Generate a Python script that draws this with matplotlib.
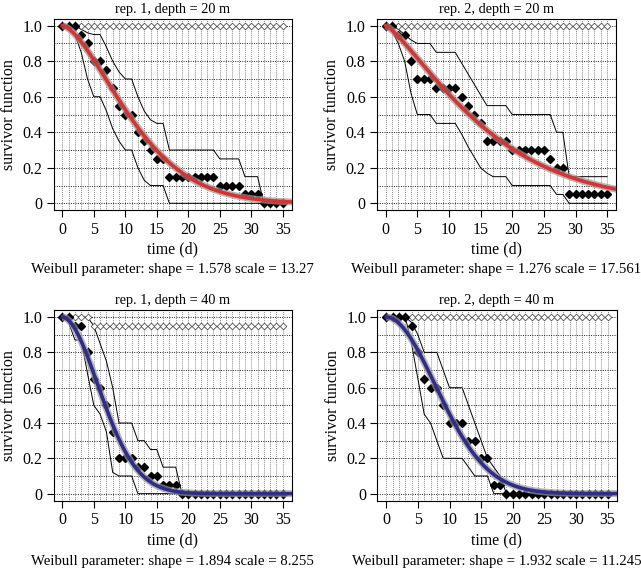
import numpy as np
import matplotlib
matplotlib.use("Agg")
from matplotlib import pyplot as plt

plt.rcParams['font.family'] = ['Liberation Serif', 'DejaVu Serif']

# ==================================================
#   DATA

days = list(range(36))

# rep. 1, depth = 20 m
km_r1_20 = [1, 1, 1, .95, .9, .8, .8, .75, .65, .55, .5, .5, .4, .35, .3, .25, .25, .15,
            .15, .15, .15, .15, .15, .15, .15, .1, .1, .1, .1, .05, .05, .05, 0, 0, 0, 0]
up_r1_20 = [1, 1, 1, .98, .96, .95, .95, .88, .8, .74, .7, .7, .6, .52, .47, .45, .45, .3,
            .3, .3, .3, .3, .3, .3, .3, .25, .25, .25, .25, .15, .15, .15, 0, 0, 0, 0]
lo_r1_20 = [1, 1, .95, .85, .7, .6, .6, .52, .42, .35, .3, .3, .2, .13, .1, .1, .1, 0,
            0, 0, 0, 0, 0, 0, 0, 0, 0, 0, 0, 0, 0, 0, 0, 0, 0, 0]
ctrl_r1_20 = [1, 1, 1, 1, 1, 1, 1, 1, 1, 1, 1, 1, 1, 1, 1, 1, 1, 1,
              1, 1, 1, 1, 1, 1, 1, 1, 1, 1, 1, 1, 1, 1, 1, 1, 1, 1]

# rep. 2, depth = 20 m
km_r2_20 = [1, 1, .95, .95, .8, .7, .7, .7, .65, .65, .65, .65, .6, .55, .5, .45, .35, .35,
            .35, .35, .3, .3, .3, .3, .3, .3, .25, .2, .2, .05, .05, .05, .05, .05, .05, .05]
up_r2_20 = [1, 1, .98, .95, .92, .9, .9, .9, .85, .85, .85, .85, .79, .73, .67, .61, .55, .55,
            .55, .55, .5, .5, .5, .5, .5, .5, .5, .4, .4, .15, .15, .15, .15, .15, .15, .15]
lo_r2_20 = [1, .97, .9, .8, .62, .5, .5, .5, .45, .45, .45, .45, .39, .32, .26, .2, .17, .15,
            .15, .15, .1, .1, .1, .1, .1, .1, .1, .05, .05, 0, 0, 0, 0, 0, 0, 0]
ctrl_r2_20 = [1, 1, 1, 1, 1, 1, 1, 1, 1, 1, 1, 1, 1, 1, 1, 1, 1, 1,
              1, 1, 1, 1, 1, 1, 1, 1, 1, 1, 1, 1, 1, 1, 1, 1, 1, 1]

# rep. 1, depth = 40 m
km_r1_40 = [1, 1, .95, .95, .8, .65, .6, .5, .35, .2, .2, .2, .15, .15, .1, .1, .05, .05,
            .05, 0, 0, 0, 0, 0, 0, 0, 0, 0, 0, 0, 0, 0, 0, 0, 0, 0]
up_r1_40 = [1, 1, 1, 1, 1, .95, .85, .75, .6, .4, .4, .4, .3, .3, .25, .25, .15, .15,
            .15, 0, 0, 0, 0, 0, 0, 0, 0, 0, 0, 0, 0, 0, 0, 0, 0, 0]
lo_r1_40 = [1, .97, .87, .87, .68, .5, .45, .35, .12, .1, .1, .1, 0, 0, 0, 0, 0, 0,
            0, 0, 0, 0, 0, 0, 0, 0, 0, 0, 0, 0, 0, 0, 0, 0, 0, 0]
ctrl_r1_40 = [1, 1, 1, 1, 1, .95, .95, .95, .95, .95, .95, .95, .95, .95, .95, .95, .95, .95,
              .95, .95, .95, .95, .95, .95, .95, .95, .95, .95, .95, .95, .95, .95, .95, .95, .95, .95]

# rep. 2, depth = 40 m
km_r2_40 = [1, 1, 1, 1, .95, .8, .65, .6, .6, .5, .4, .4, .4, .3, .3, .2, .2, .05,
            .05, 0, 0, 0, 0, 0, 0, 0, 0, 0, 0, 0, 0, 0, 0, 0, 0, 0]
up_r2_40 = [1, 1, 1, 1, .97, .9, .8, .8, .8, .7, .6, .6, .6, .5, .4, .3, .2, .15,
            .1, 0, 0, 0, 0, 0, 0, 0, 0, 0, 0, 0, 0, 0, 0, 0, 0, 0]
lo_r2_40 = [1, 1, 1, 1, .85, .65, .45, .4, .3, .2, .2, .2, .2, .15, .1, .1, .1, 0,
            0, 0, 0, 0, 0, 0, 0, 0, 0, 0, 0, 0, 0, 0, 0, 0, 0, 0]
ctrl_r2_40 = [1, 1, 1, 1, 1, 1, 1, 1, 1, 1, 1, 1, 1, 1, 1, 1, 1, 1,
              1, 1, 1, 1, 1, 1, 1, 1, 1, 1, 1, 1, 1, 1, 1, 1, 1, 1]

# fitted Weibull parameters as printed under each panel
weib_shape = [1.578, 1.276, 1.894, 1.932]
weib_scale = [13.27, 17.561, 8.255, 11.245]
weib_scale_txt = ["13.27", "17.561", "8.255", "11.245"]

titles = ["rep. 1, depth = 20 m", "rep. 2, depth = 20 m",
          "rep. 1, depth = 40 m", "rep. 2, depth = 40 m"]

x_ticks = [0, 5, 10, 15, 20, 25, 30, 35]
y_ticks = [0, 0.2, 0.4, 0.6, 0.8, 1.0]
y_ticklabels = ["0", "0.2", "0.4", "0.6", "0.8", "1.0"]
y_grid = [0, 0.1, 0.2, 0.3, 0.4, 0.5, 0.6, 0.7, 0.8, 0.9, 1.0]


def draw_panel(ax, title, km, upper, lower, ctrl, shape, scale, color):
    ax.set_xlim(-1.4, 36.4)
    ax.set_ylim(-0.04, 1.04)

    # dotted grid at every day and every 0.1
    for d in days:
        ax.axvline(d, color="0.15", ls=(0, (1, 1.8)), lw=0.5, zorder=0)
    for g in y_grid:
        ax.axhline(g, color="k", ls=(0, (1, 1.6)), lw=0.65, zorder=0)

    # confidence limits of the empirical survivor function
    ax.plot(days, upper, color="k", lw=0.7, zorder=2)
    ax.plot(days, lower, color="k", lw=0.7, zorder=2)

    # control (open) and treatment (filled) survival
    ax.plot(days, ctrl, ls="none", marker="D", ms=3.4, mfc="white", mec="0.3",
            mew=0.6, zorder=3)
    ax.plot(days, km, ls="none", marker="D", ms=4.2, color="k", zorder=4)

    # Weibull fit
    t = np.linspace(0, 37, 300)
    s = np.exp(-(t / scale) ** shape)
    ax.plot(t, s, color="0.6", lw=5.0, alpha=0.7, zorder=5, solid_capstyle="butt")
    ax.plot(t, s, color=color, lw=2.6, zorder=6)

    ax.set_xticks(x_ticks)
    ax.set_yticks(y_ticks)
    ax.set_yticklabels(y_ticklabels)
    ax.tick_params(direction="out", length=5, width=0.8, labelsize=11.5, pad=3)
    for sp in ax.spines.values():
        sp.set_linewidth(0.8)
    ax.set_title(title, fontsize=10.3, pad=4)
    ax.set_xlabel("time (d)", fontsize=11.4, labelpad=3)
    ax.set_ylabel("survivor function", fontsize=11.5, labelpad=4)


fig = plt.figure(figsize=(6.41, 5.69), dpi=100)

W, H = 641., 569.
# axes boxes in pixels: left, top, right, bottom
boxes = [(53.5, 18.6, 291.6, 210.4), (376.8, 18.6, 616.0, 210.4),
         (53.5, 310.0, 291.6, 500.7), (377.4, 310.0, 616.5, 500.7)]
panels = [(km_r1_20, up_r1_20, lo_r1_20, ctrl_r1_20),
          (km_r2_20, up_r2_20, lo_r2_20, ctrl_r2_20),
          (km_r1_40, up_r1_40, lo_r1_40, ctrl_r1_40),
          (km_r2_40, up_r2_40, lo_r2_40, ctrl_r2_40)]
colors = ["#d83333", "#d83333", "#2e2e8a", "#2e2e8a"]
text_y = [269., 269., 561., 561.]

for i in range(4):
    l, t, r, b = boxes[i]
    ax = fig.add_axes([l / W, 1 - b / H, (r - l) / W, (b - t) / H])
    km, up, lo, ctrl = panels[i]
    draw_panel(ax, titles[i], km, up, lo, ctrl, weib_shape[i], weib_scale[i], colors[i])
    fig.text((l + r) / 2 / W, 1 - text_y[i] / H,
             f"Weibull parameter: shape = {weib_shape[i]} scale = {weib_scale_txt[i]}",
             ha="center", va="center", fontsize=10.6)

fig.savefig("out.png", dpi=100)
